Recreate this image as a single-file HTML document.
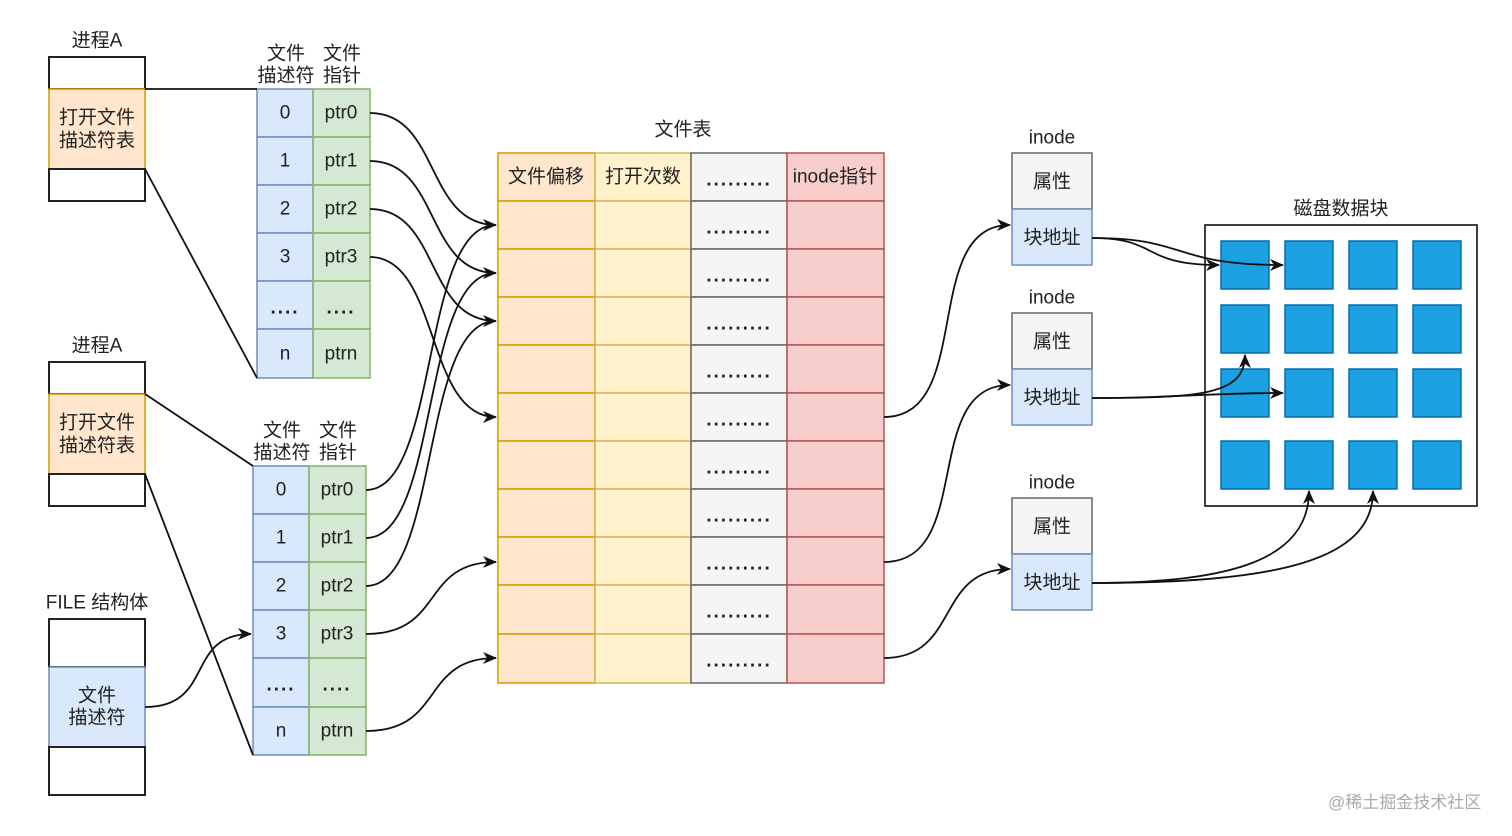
<!DOCTYPE html>
<html><head><meta charset="utf-8"><style>
html,body{margin:0;padding:0;background:#fff}
svg{display:block}
text{font-family:"Liberation Sans","Noto Sans CJK SC",sans-serif;font-size:19px;fill:#222}
.c{text-anchor:middle;dominant-baseline:central}
.d{font-weight:bold;letter-spacing:2px}
.w{fill:#fff;stroke:#222;stroke-width:2}
.or{fill:#ffe6cc;stroke:#d79b00;stroke-width:1.5}
.ye{fill:#fff2cc;stroke:#d6b656;stroke-width:1.5}
.gr{fill:#f5f5f5;stroke:#666;stroke-width:1.5}
.rd{fill:#f8cecc;stroke:#b85450;stroke-width:1.5}
.bl{fill:#dae8fc;stroke:#6c8ebf;stroke-width:1.5}
.gn{fill:#d5e8d4;stroke:#82b366;stroke-width:1.5}
.blk{fill:#1ba1e2;stroke:#006eaf;stroke-width:1.5}
.e{fill:none;stroke:#111;stroke-width:1.8}
</style></head><body>
<svg width="1512" height="836" viewBox="0 0 1512 836" xmlns="http://www.w3.org/2000/svg">
<defs><marker id="a" markerWidth="14" markerHeight="14" refX="13" refY="6" orient="auto" markerUnits="userSpaceOnUse"><path d="M0,0 L14,6 L0,12 L4,6 z" fill="#111"/></marker></defs>

<text class="c" x="97" y="41">进程A</text>
<rect class="w" x="49" y="57" width="96" height="32"/>
<rect class="or" x="49" y="89" width="96" height="80"/>
<rect class="w" x="49" y="169" width="96" height="32"/>
<text class="c" x="97" y="118">打开文件</text><text class="c" x="97" y="141">描述符表</text>

<text class="c" x="97" y="346">进程A</text>
<rect class="w" x="49" y="362" width="96" height="32"/>
<rect class="or" x="49" y="394" width="96" height="80"/>
<rect class="w" x="49" y="474" width="96" height="32"/>
<text class="c" x="97" y="423">打开文件</text><text class="c" x="97" y="446">描述符表</text>

<text class="c" x="97" y="603">FILE 结构体</text>
<rect class="w" x="49" y="619" width="96" height="48"/>
<rect class="bl" x="49" y="667" width="96" height="80"/>
<rect class="w" x="49" y="747" width="96" height="48"/>
<text class="c" x="97" y="696">文件</text><text class="c" x="97" y="718">描述符</text>

<text class="c" x="286" y="54">文件</text><text class="c" x="286" y="76">描述符</text>
<text class="c" x="342" y="54">文件</text><text class="c" x="342" y="76">指针</text>
<rect class="bl" x="257" y="89" width="56" height="48"/><rect class="gn" x="313" y="89" width="57" height="48"/>
<rect class="bl" x="257" y="137" width="56" height="48"/><rect class="gn" x="313" y="137" width="57" height="48"/>
<rect class="bl" x="257" y="185" width="56" height="48"/><rect class="gn" x="313" y="185" width="57" height="48"/>
<rect class="bl" x="257" y="233" width="56" height="48"/><rect class="gn" x="313" y="233" width="57" height="48"/>
<rect class="bl" x="257" y="281" width="56" height="48"/><rect class="gn" x="313" y="281" width="57" height="48"/>
<rect class="bl" x="257" y="329" width="56" height="49"/><rect class="gn" x="313" y="329" width="57" height="49"/>
<text class="c" x="285" y="113">0</text><text class="c" x="341" y="113">ptr0</text>
<text class="c" x="285" y="161">1</text><text class="c" x="341" y="161">ptr1</text>
<text class="c" x="285" y="209">2</text><text class="c" x="341" y="209">ptr2</text>
<text class="c" x="285" y="257">3</text><text class="c" x="341" y="257">ptr3</text>
<text class="c d" x="285" y="308">....</text><text class="c d" x="341" y="308">....</text>
<text class="c" x="285" y="354">n</text><text class="c" x="341" y="354">ptrn</text>

<text class="c" x="282" y="431">文件</text><text class="c" x="282" y="453">描述符</text>
<text class="c" x="338" y="431">文件</text><text class="c" x="338" y="453">指针</text>
<rect class="bl" x="253" y="466" width="56" height="48"/><rect class="gn" x="309" y="466" width="57" height="48"/>
<rect class="bl" x="253" y="514" width="56" height="48"/><rect class="gn" x="309" y="514" width="57" height="48"/>
<rect class="bl" x="253" y="562" width="56" height="48"/><rect class="gn" x="309" y="562" width="57" height="48"/>
<rect class="bl" x="253" y="610" width="56" height="48"/><rect class="gn" x="309" y="610" width="57" height="48"/>
<rect class="bl" x="253" y="658" width="56" height="49"/><rect class="gn" x="309" y="658" width="57" height="49"/>
<rect class="bl" x="253" y="707" width="56" height="48"/><rect class="gn" x="309" y="707" width="57" height="48"/>
<text class="c" x="281" y="490">0</text><text class="c" x="337" y="490">ptr0</text>
<text class="c" x="281" y="538">1</text><text class="c" x="337" y="538">ptr1</text>
<text class="c" x="281" y="586">2</text><text class="c" x="337" y="586">ptr2</text>
<text class="c" x="281" y="634">3</text><text class="c" x="337" y="634">ptr3</text>
<text class="c d" x="281" y="685">....</text><text class="c d" x="337" y="685">....</text>
<text class="c" x="281" y="731">n</text><text class="c" x="337" y="731">ptrn</text>

<text class="c" x="683" y="130">文件表</text>
<rect class="or" x="498" y="153" width="97" height="48"/><rect class="ye" x="595" y="153" width="96" height="48"/><rect class="gr" x="691" y="153" width="96" height="48"/><rect class="rd" x="787" y="153" width="97" height="48"/>
<rect class="or" x="498" y="201" width="97" height="48"/><rect class="ye" x="595" y="201" width="96" height="48"/><rect class="gr" x="691" y="201" width="96" height="48"/><rect class="rd" x="787" y="201" width="97" height="48"/>
<rect class="or" x="498" y="249" width="97" height="48"/><rect class="ye" x="595" y="249" width="96" height="48"/><rect class="gr" x="691" y="249" width="96" height="48"/><rect class="rd" x="787" y="249" width="97" height="48"/>
<rect class="or" x="498" y="297" width="97" height="48"/><rect class="ye" x="595" y="297" width="96" height="48"/><rect class="gr" x="691" y="297" width="96" height="48"/><rect class="rd" x="787" y="297" width="97" height="48"/>
<rect class="or" x="498" y="345" width="97" height="48"/><rect class="ye" x="595" y="345" width="96" height="48"/><rect class="gr" x="691" y="345" width="96" height="48"/><rect class="rd" x="787" y="345" width="97" height="48"/>
<rect class="or" x="498" y="393" width="97" height="48"/><rect class="ye" x="595" y="393" width="96" height="48"/><rect class="gr" x="691" y="393" width="96" height="48"/><rect class="rd" x="787" y="393" width="97" height="48"/>
<rect class="or" x="498" y="441" width="97" height="48"/><rect class="ye" x="595" y="441" width="96" height="48"/><rect class="gr" x="691" y="441" width="96" height="48"/><rect class="rd" x="787" y="441" width="97" height="48"/>
<rect class="or" x="498" y="489" width="97" height="48"/><rect class="ye" x="595" y="489" width="96" height="48"/><rect class="gr" x="691" y="489" width="96" height="48"/><rect class="rd" x="787" y="489" width="97" height="48"/>
<rect class="or" x="498" y="537" width="97" height="48"/><rect class="ye" x="595" y="537" width="96" height="48"/><rect class="gr" x="691" y="537" width="96" height="48"/><rect class="rd" x="787" y="537" width="97" height="48"/>
<rect class="or" x="498" y="585" width="97" height="49"/><rect class="ye" x="595" y="585" width="96" height="49"/><rect class="gr" x="691" y="585" width="96" height="49"/><rect class="rd" x="787" y="585" width="97" height="49"/>
<rect class="or" x="498" y="634" width="97" height="49"/><rect class="ye" x="595" y="634" width="96" height="49"/><rect class="gr" x="691" y="634" width="96" height="49"/><rect class="rd" x="787" y="634" width="97" height="49"/>
<text class="c" x="546" y="177">文件偏移</text><text class="c" x="643" y="177">打开次数</text>
<text class="c" x="835" y="177">inode指针</text>
<g class="dots">
<text class="c d" x="739" y="180">.........</text>
<text class="c d" x="739" y="228">.........</text>
<text class="c d" x="739" y="276">.........</text>
<text class="c d" x="739" y="324">.........</text>
<text class="c d" x="739" y="372">.........</text>
<text class="c d" x="739" y="420">.........</text>
<text class="c d" x="739" y="468">.........</text>
<text class="c d" x="739" y="516">.........</text>
<text class="c d" x="739" y="564">.........</text>
<text class="c d" x="739" y="612">.........</text>
<text class="c d" x="739" y="661">.........</text>
</g>

<text class="c" x="1052" y="138">inode</text>
<rect class="gr" x="1012" y="153" width="80" height="56"/><rect class="bl" x="1012" y="209" width="80" height="56"/>
<text class="c" x="1052" y="182">属性</text><text class="c" x="1052" y="238">块地址</text>
<text class="c" x="1052" y="298">inode</text>
<rect class="gr" x="1012" y="313" width="80" height="56"/><rect class="bl" x="1012" y="369" width="80" height="56"/>
<text class="c" x="1052" y="342">属性</text><text class="c" x="1052" y="398">块地址</text>
<text class="c" x="1052" y="483">inode</text>
<rect class="gr" x="1012" y="498" width="80" height="56"/><rect class="bl" x="1012" y="554" width="80" height="56"/>
<text class="c" x="1052" y="527">属性</text><text class="c" x="1052" y="583">块地址</text>

<text class="c" x="1341" y="209">磁盘数据块</text>
<rect x="1205" y="225" width="272" height="281" fill="#fff" stroke="#111" stroke-width="1.6"/>
<rect class="blk" x="1221" y="241" width="48" height="48"/><rect class="blk" x="1285" y="241" width="48" height="48"/><rect class="blk" x="1349" y="241" width="48" height="48"/><rect class="blk" x="1413" y="241" width="48" height="48"/>
<rect class="blk" x="1221" y="305" width="48" height="48"/><rect class="blk" x="1285" y="305" width="48" height="48"/><rect class="blk" x="1349" y="305" width="48" height="48"/><rect class="blk" x="1413" y="305" width="48" height="48"/>
<rect class="blk" x="1221" y="369" width="48" height="48"/><rect class="blk" x="1285" y="369" width="48" height="48"/><rect class="blk" x="1349" y="369" width="48" height="48"/><rect class="blk" x="1413" y="369" width="48" height="48"/>
<rect class="blk" x="1221" y="441" width="48" height="48"/><rect class="blk" x="1285" y="441" width="48" height="48"/><rect class="blk" x="1349" y="441" width="48" height="48"/><rect class="blk" x="1413" y="441" width="48" height="48"/>

<path class="e" d="M145,89 L257,89 M145,169 L257,378 M145,394 L253,466 M145,474 L253,755"/>

<path class="e" marker-end="url(#a)" d="M370,113 C440,113 425,225 496,225"/>
<path class="e" marker-end="url(#a)" d="M370,161 C440,161 425,273 496,273"/>
<path class="e" marker-end="url(#a)" d="M370,209 C440,209 425,321 496,321"/>
<path class="e" marker-end="url(#a)" d="M370,257 C440,257 425,417 496,417"/>
<path class="e" d="M366,490 C440,490 420,225 496,225"/>
<path class="e" d="M366,538 C440,538 420,273 496,273"/>
<path class="e" d="M366,586 C440,586 420,321 496,321"/>
<path class="e" marker-end="url(#a)" d="M366,634 C445,634 420,562 496,562"/>
<path class="e" marker-end="url(#a)" d="M366,731 C445,731 420,658 496,658"/>
<path class="e" marker-end="url(#a)" d="M145,707 C215,707 185,634 251,634"/>
<path class="e" marker-end="url(#a)" d="M884,417 C975,417 920,225 1010,225"/>
<path class="e" marker-end="url(#a)" d="M884,562 C975,562 920,385 1010,385"/>
<path class="e" marker-end="url(#a)" d="M884,658 C960,658 935,569 1010,569"/>
<path class="e" marker-end="url(#a)" d="M1092,238 C1160,238 1140,265 1219,265"/>
<path class="e" marker-end="url(#a)" d="M1092,238 C1190,238 1170,265 1283,265"/>
<path class="e" marker-end="url(#a)" d="M1092,398 C1200,398 1245,395 1245,355"/>
<path class="e" marker-end="url(#a)" d="M1092,398 C1180,398 1200,393 1283,393"/>
<path class="e" marker-end="url(#a)" d="M1092,583 C1230,583 1309,560 1309,491"/>
<path class="e" marker-end="url(#a)" d="M1092,583 C1280,583 1373,560 1373,491"/>

<text x="1328" y="808" style="font-size:17px;fill:#aaa">@稀土掘金技术社区</text>
</svg>
</body></html>
